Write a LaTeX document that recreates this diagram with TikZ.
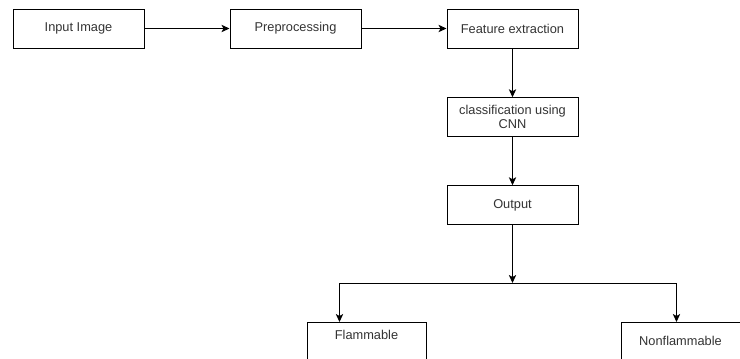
\documentclass[tikz,border=0pt]{standalone}
\usepackage{fontspec}
\setmainfont{Liberation Sans}
\usetikzlibrary{arrows.meta}
\definecolor{txt}{HTML}{333333}
\tikzset{
  box/.style={draw=black, line width=0.75pt, rectangle, inner sep=0pt,
    text=txt, font=\fontsize{9.6pt}{11.5pt}\selectfont, align=center},
  wide/.style={box, minimum width=98.25pt, minimum height=29.25pt},
  leaf/.style={box, minimum width=89.25pt, text depth=30pt},
  conn/.style={draw=black, line width=0.75pt, -{Stealth[length=6pt,width=5.5pt,inset=1.5pt]}},
}
\begin{document}
\begin{tikzpicture}[x=0.75pt,y=-0.75pt]
\useasboundingbox (0,0) rectangle (740,358);
\clip (0,0) rectangle (740,358);
\node[wide] (inp) at (78.5,28.5) {Input Image};
\node[wide] (pre) at (295.5,28.5) {Preprocessing};
\node[wide] (fea) at (512.5,28.5) {Feature extraction};
\node[wide, minimum height=28.9pt] (cls) at (512.5,117) {classification using\\[-1pt]CNN};
\node[wide, minimum height=28.9pt] (out) at (512.5,205) {Output};
\node[leaf, text height=12.75pt, anchor=north] (fl) at (366.5,322) {Flammable};
\node[leaf, text height=17.5pt, anchor=north] (nf) at (680.5,322) {Nonflammable};
\coordinate (j) at (512.5,283);
\draw[conn] (inp) -- (pre);
\draw[conn] (pre) -- (fea);
\draw[conn] (fea) -- (cls);
\draw[conn] (cls) -- (out);
\draw[conn] (out) -- (j);
\draw[conn] (j) -| ([xshift=-20.25pt]fl.north);
\draw[conn] (j) -| ([xshift=-3pt]nf.north);
\end{tikzpicture}
\end{document}
